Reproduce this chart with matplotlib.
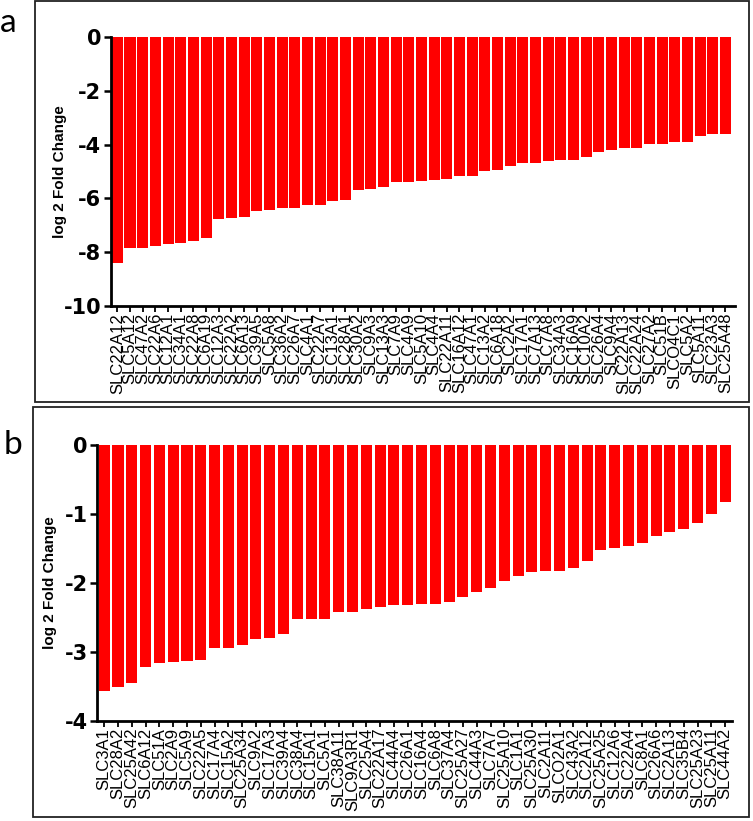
import matplotlib
matplotlib.use("Agg")
import matplotlib.pyplot as plt
from matplotlib.patches import Rectangle

genes_a = ["SLC22A12", "SLC5A12", "SLC47A2", "SLC22A6", "SLC12A1", "SLC34A1", "SLC22A8",
           "SLC6A19", "SLC12A3", "SLC22A2", "SLC6A13", "SLC39A5", "SLC5A8", "SLC36A2",
           "SLC26A7", "SLC4A1", "SLC22A7", "SLC13A1", "SLC28A1", "SLC30A2", "SLC9A3",
           "SLC13A3", "SLC7A9", "SLC4A9", "SLC5A10", "SLC4A4", "SLC22A11", "SLC16A12",
           "SLC47A1", "SLC13A2", "SLC6A18", "SLC2A2", "SLC17A1", "SLC7A13", "SLC7A8",
           "SLC34A3", "SLC16A9", "SLC10A2", "SLC26A4", "SLC9A4", "SLC22A13", "SLC22A24",
           "SLC27A2", "SLC51B", "SLCO4C1", "SLC5A2", "SLC5A11", "SLC23A3", "SLC25A48"]
fc_a = [-8.42, -7.84, -7.84, -7.77, -7.68, -7.67, -7.58, -7.47, -6.78, -6.73, -6.71,
        -6.47, -6.42, -6.37, -6.36, -6.26, -6.24, -6.08, -6.07, -5.70, -5.65, -5.59,
        -5.38, -5.38, -5.34, -5.30, -5.28, -5.18, -5.16, -5.00, -4.94, -4.79, -4.67,
        -4.67, -4.62, -4.58, -4.56, -4.46, -4.26, -4.21, -4.14, -4.12, -3.96, -3.96,
        -3.91, -3.89, -3.68, -3.62, -3.59]

genes_b = ["SLC3A1", "SLC28A2", "SLC25A42", "SLC6A12", "SLC51A", "SLC2A9", "SLC5A9",
           "SLC22A5", "SLC17A4", "SLC15A2", "SLC25A34", "SLC9A2", "SLC17A3", "SLC39A4",
           "SLC38A4", "SLC15A1", "SLC5A1", "SLC38A11", "SLC9A3R1", "SLC25A4", "SLC22A17",
           "SLC44A4", "SLC26A1", "SLC16A4", "SLC6A8", "SLC37A4", "SLC25A27", "SLC44A3",
           "SLC7A7", "SLC25A10", "SLC1A1", "SLC25A30", "SLC2A11", "SLCO2A1", "SLC43A2",
           "SLC2A12", "SLC25A25", "SLC12A6", "SLC22A4", "SLC8A1", "SLC26A6", "SLC2A13",
           "SLC35B4", "SLC25A23", "SLC25A11", "SLC44A2"]
fc_b = [-3.57, -3.51, -3.45, -3.22, -3.16, -3.155, -3.13, -3.12, -2.95, -2.95, -2.91,
        -2.82, -2.80, -2.75, -2.53, -2.53, -2.53, -2.43, -2.42, -2.38, -2.35, -2.33,
        -2.325, -2.31, -2.31, -2.28, -2.21, -2.14, -2.07, -1.98, -1.91, -1.85, -1.835,
        -1.83, -1.79, -1.69, -1.52, -1.50, -1.47, -1.43, -1.33, -1.26, -1.22, -1.13,
        -1.01, -0.83]

yticks_a = [0, -2, -4, -6, -8, -10]
yticks_b = [0, -1, -2, -3, -4]
ylabel = "log 2 Fold Change"

W, H = 753, 821
fig = plt.figure(figsize=(W / 100, H / 100), dpi=100)

SANS = ["Liberation Sans", "DejaVu Sans"]


def fx(px):
    return px / W


def fy(py):
    return 1 - py / H


def panel(rect, genes, vals, yticks, ylim, xlim, barw, ylabel_px):
    ax = fig.add_axes(rect)
    x = list(range(len(genes)))
    ax.bar(x, vals, width=barw, color="#ff0000", edgecolor="none")
    ax.set_xlim(*xlim)
    ax.set_ylim(*ylim)
    ax.set_xticks(x, labels=genes)
    for lab in ax.get_xticklabels():
        lab.set_rotation(90)
        lab.set_fontsize(12)
        lab.set_family(SANS)
    ax.set_yticks(yticks, labels=[("-%d" % abs(t)) if t < 0 else str(t) for t in yticks])
    for lab in ax.get_yticklabels():
        lab.set_fontsize(15)
        lab.set_fontweight("bold")
        lab.set_family(["DejaVu Sans"])
    for s in ["top", "right"]:
        ax.spines[s].set_visible(False)
    for s in ["left", "bottom"]:
        ax.spines[s].set_linewidth(2)
    ax.tick_params(axis="x", direction="out", length=4, width=1.3, pad=1)
    ax.tick_params(axis="y", direction="out", length=5, width=1.8, pad=2)
    yc = rect[1] + rect[3] / 2
    fig.text(fx(ylabel_px), yc, ylabel, rotation=90, fontsize=11, fontweight="bold",
             family=SANS, ha="center", va="center")
    return ax


ax_a = panel([fx(111), fy(306), fx(735) - fx(111), fy(37) - fy(306)],
             genes_a, fc_a, yticks_a, (-10, 0), (-0.5, 48.75), 0.87, 60)
ax_b = panel([fx(97.3), fy(720.7), fx(732) - fx(97.3), fy(444.7) - fy(720.7)],
             genes_b, fc_b, yticks_b, (-4, 0), (-0.5, 45.5), 0.8, 50)

# panel frames
fig.add_artist(Rectangle((fx(35), fy(402)), fx(749) - fx(35), fy(1) - fy(402),
                         transform=fig.transFigure, fill=False, edgecolor="#222222", lw=1.3))
fig.add_artist(Rectangle((fx(33), fy(817)), fx(749) - fx(33), fy(407) - fy(817),
                         transform=fig.transFigure, fill=False, edgecolor="#222222", lw=1.3))

fig.text(fx(0), fy(23), "a", fontsize=24, family=["Lato", "DejaVu Sans"], va="center", ha="left")
fig.text(fx(4), fy(445), "b", fontsize=24, family=["Lato", "DejaVu Sans"], va="center", ha="left")

fig.savefig("out.png", dpi=100)
